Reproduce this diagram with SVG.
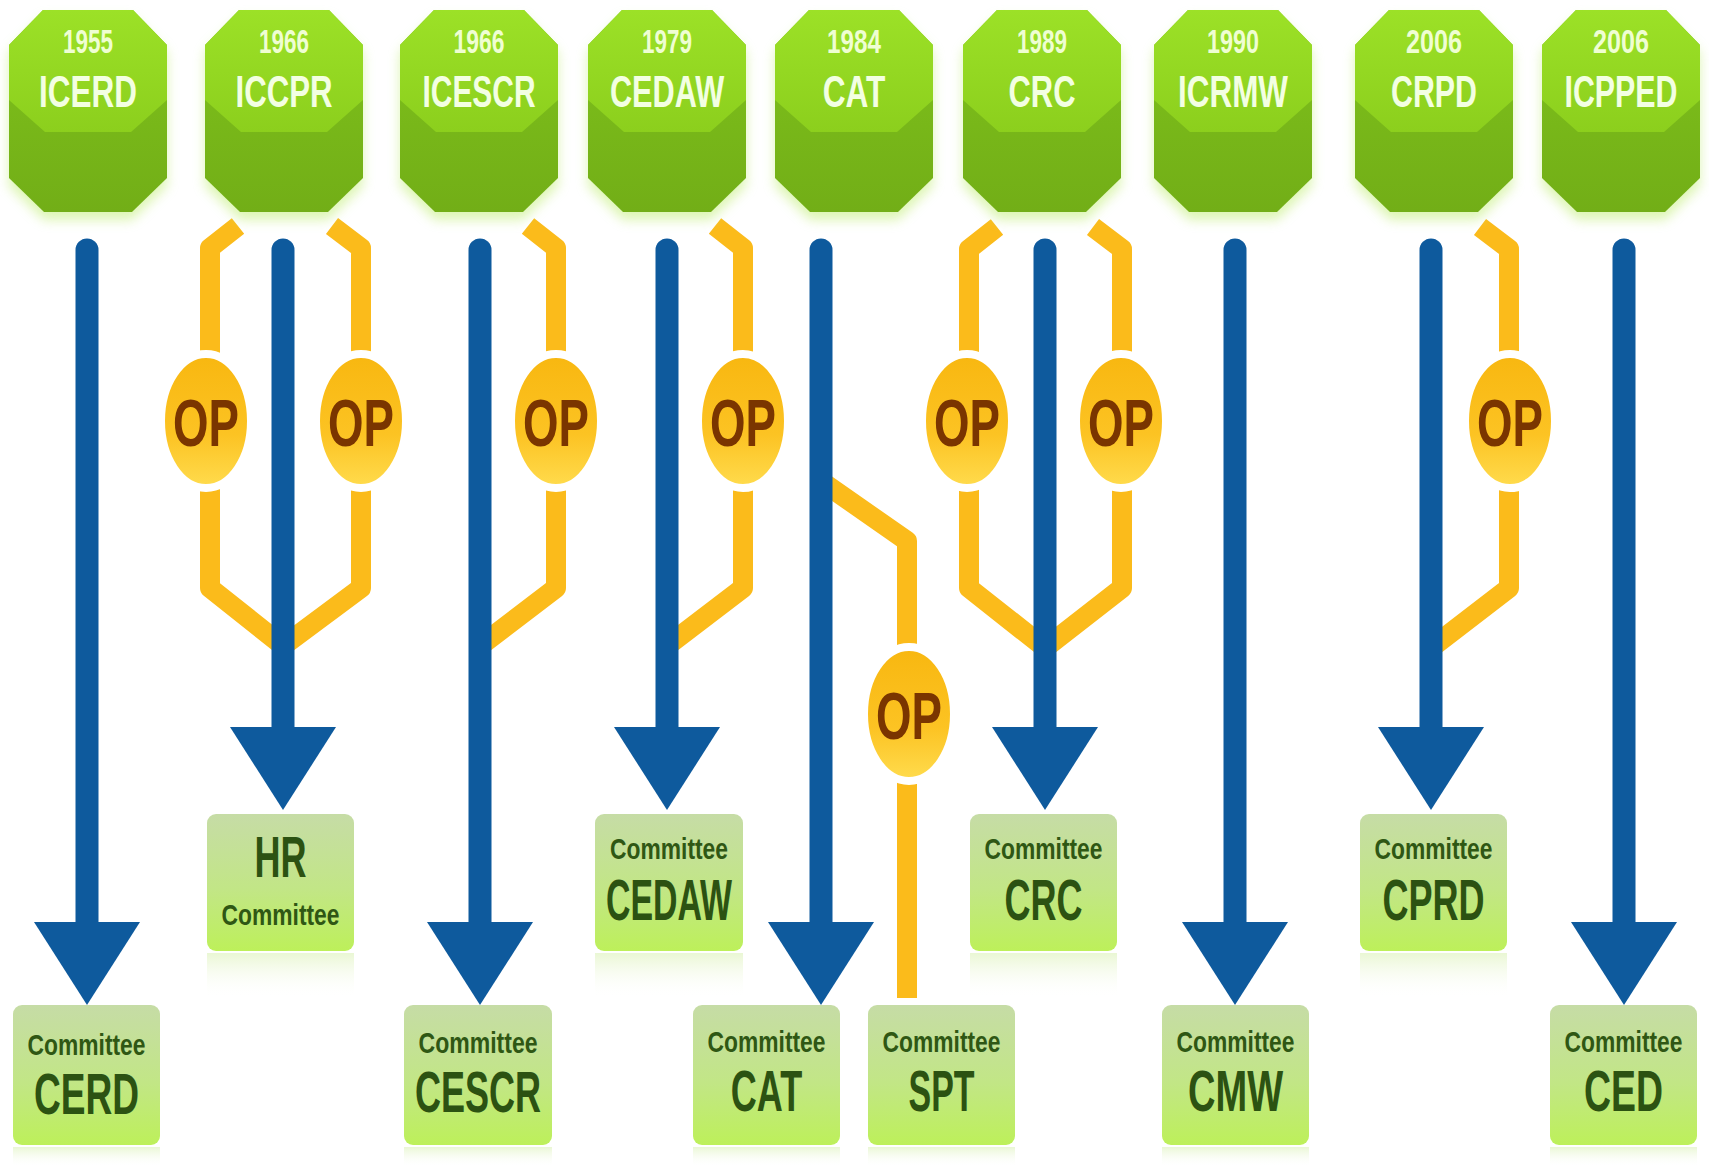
<svg xmlns="http://www.w3.org/2000/svg" xmlns:xlink="http://www.w3.org/1999/xlink" width="1709" height="1167" viewBox="0 0 1709 1167">
<defs>
<style>
.blue{stroke:#0e5a9d;stroke-width:23;stroke-linecap:round;fill:none;marker-end:url(#head)}
.op{stroke:#fbbb1b;stroke-width:20;fill:none;stroke-linejoin:round}
.yr{font-family:"Liberation Sans",Arial,sans-serif;font-weight:bold;font-size:34px;fill:#effed2;text-anchor:middle}
.nm{font-family:"Liberation Sans",Arial,sans-serif;font-weight:bold;font-size:45px;fill:#f3ffe2;text-anchor:middle}
.cm{font-family:"Liberation Sans",Arial,sans-serif;font-weight:bold;font-size:30px;fill:#2f5714;text-anchor:middle}
.big{font-family:"Liberation Sans",Arial,sans-serif;font-weight:bold;font-size:58px;fill:#2c5212;text-anchor:middle}
.opt{font-family:"Liberation Sans",Arial,sans-serif;font-weight:bold;font-size:66px;fill:#7a3500;text-anchor:middle}
.box{fill:url(#boxg)}
.refl{fill:url(#reflg)}
.ell{fill:url(#opg);stroke:#ffffff;stroke-width:8}
</style>
<linearGradient id="bodyg" x1="0" y1="0" x2="0" y2="1">
<stop offset="0" stop-color="#80c31c"/><stop offset="1" stop-color="#72ae17"/>
</linearGradient>
<linearGradient id="topg" x1="0" y1="0" x2="0" y2="1">
<stop offset="0" stop-color="#9ce127"/><stop offset="1" stop-color="#8ccf1d"/>
</linearGradient>
<linearGradient id="boxg" x1="0" y1="0" x2="0" y2="1">
<stop offset="0" stop-color="#c6dca6"/><stop offset="0.55" stop-color="#c2e686"/><stop offset="1" stop-color="#bdf05a"/>
</linearGradient>
<linearGradient id="reflg" x1="0" y1="0" x2="0" y2="1">
<stop offset="0" stop-color="#d8f0b0" stop-opacity="0.55"/><stop offset="1" stop-color="#ffffff" stop-opacity="0"/>
</linearGradient>
<linearGradient id="opg" x1="0" y1="0" x2="0" y2="1">
<stop offset="0" stop-color="#f8b710"/><stop offset="0.6" stop-color="#fcc323"/><stop offset="1" stop-color="#ffdc4e"/>
</linearGradient>
<filter id="glow" x="-20%" y="-20%" width="140%" height="140%"><feGaussianBlur stdDeviation="6"/></filter>
<marker id="head" markerUnits="userSpaceOnUse" markerWidth="84" markerHeight="108" viewBox="0 -54 84 108" refX="0" refY="0" orient="auto">
<path d="M0,-53 L83,0 L0,53 Z" fill="#0e5a9d"/>
</marker>
<path id="hexOuter" d="M-45,10 L45,10 L79,45 L79,178 L44,212 L-44,212 L-79,178 L-79,45 Z"/>
<path id="hexTop" d="M-45,10 L45,10 L79,45 L79,100 L43,132 L-43,132 L-79,100 L-79,45 Z"/>
</defs>
<rect width="1709" height="1167" fill="#ffffff"/>

<g id="connectors">
<path class="op" d="M238,226 L210,248 L210,588 L283,646"/>
<path class="op" d="M332,226 L361,248 L361,588 L283,646"/>
<path class="op" d="M528,226 L556,248 L556,588 L480,646"/>
<path class="op" d="M715,226 L743,248 L743,588 L667,646"/>
<path class="op" d="M821,481 L907,541 L907,998"/>
<path class="op" d="M997,227 L969,249 L969,588 L1045,648"/>
<path class="op" d="M1093,227 L1122,249 L1122,588 L1045,648"/>
<path class="op" d="M1480,227 L1509,249 L1509,588 L1431,648"/>
<path class="blue" d="M87,250 L87,922"/>
<path class="blue" d="M283,250 L283,727"/>
<path class="blue" d="M480,250 L480,922"/>
<path class="blue" d="M667,250 L667,727"/>
<path class="blue" d="M821,250 L821,922"/>
<path class="blue" d="M1045,250 L1045,727"/>
<path class="blue" d="M1235,250 L1235,922"/>
<path class="blue" d="M1431,250 L1431,727"/>
<path class="blue" d="M1624,250 L1624,922"/>
</g>

<g id="ICERD" transform="translate(88,0)">
<use xlink:href="#hexOuter" fill="#c6ef80" opacity="0.6" transform="translate(0,8)" filter="url(#glow)"/>
<use xlink:href="#hexOuter" fill="url(#bodyg)"/><use xlink:href="#hexTop" fill="url(#topg)"/>
<text class="yr" transform="translate(0,53) scale(0.661,1)">1955</text>
<text class="nm" transform="translate(0,107) scale(0.700,1)">ICERD</text>
</g>
<g id="ICCPR" transform="translate(284,0)">
<use xlink:href="#hexOuter" fill="#c6ef80" opacity="0.6" transform="translate(0,8)" filter="url(#glow)"/>
<use xlink:href="#hexOuter" fill="url(#bodyg)"/><use xlink:href="#hexTop" fill="url(#topg)"/>
<text class="yr" transform="translate(0,53) scale(0.661,1)">1966</text>
<text class="nm" transform="translate(0,107) scale(0.693,1)">ICCPR</text>
</g>
<g id="ICESCR" transform="translate(479,0)">
<use xlink:href="#hexOuter" fill="#c6ef80" opacity="0.6" transform="translate(0,8)" filter="url(#glow)"/>
<use xlink:href="#hexOuter" fill="url(#bodyg)"/><use xlink:href="#hexTop" fill="url(#topg)"/>
<text class="yr" transform="translate(0,53) scale(0.675,1)">1966</text>
<text class="nm" transform="translate(0,107) scale(0.665,1)">ICESCR</text>
</g>
<g id="CEDAW" transform="translate(667,0)">
<use xlink:href="#hexOuter" fill="#c6ef80" opacity="0.6" transform="translate(0,8)" filter="url(#glow)"/>
<use xlink:href="#hexOuter" fill="url(#bodyg)"/><use xlink:href="#hexTop" fill="url(#topg)"/>
<text class="yr" transform="translate(0,53) scale(0.661,1)">1979</text>
<text class="nm" transform="translate(0,107) scale(0.682,1)">CEDAW</text>
</g>
<g id="CAT" transform="translate(854,0)">
<use xlink:href="#hexOuter" fill="#c6ef80" opacity="0.6" transform="translate(0,8)" filter="url(#glow)"/>
<use xlink:href="#hexOuter" fill="url(#bodyg)"/><use xlink:href="#hexTop" fill="url(#topg)"/>
<text class="yr" transform="translate(0,53) scale(0.714,1)">1984</text>
<text class="nm" transform="translate(0,107) scale(0.703,1)">CAT</text>
</g>
<g id="CRC" transform="translate(1042,0)">
<use xlink:href="#hexOuter" fill="#c6ef80" opacity="0.6" transform="translate(0,8)" filter="url(#glow)"/>
<use xlink:href="#hexOuter" fill="url(#bodyg)"/><use xlink:href="#hexTop" fill="url(#topg)"/>
<text class="yr" transform="translate(0,53) scale(0.661,1)">1989</text>
<text class="nm" transform="translate(0,107) scale(0.687,1)">CRC</text>
</g>
<g id="ICRMW" transform="translate(1233,0)">
<use xlink:href="#hexOuter" fill="#c6ef80" opacity="0.6" transform="translate(0,8)" filter="url(#glow)"/>
<use xlink:href="#hexOuter" fill="url(#bodyg)"/><use xlink:href="#hexTop" fill="url(#topg)"/>
<text class="yr" transform="translate(0,53) scale(0.688,1)">1990</text>
<text class="nm" transform="translate(0,107) scale(0.698,1)">ICRMW</text>
</g>
<g id="CRPD" transform="translate(1434,0)">
<use xlink:href="#hexOuter" fill="#c6ef80" opacity="0.6" transform="translate(0,8)" filter="url(#glow)"/>
<use xlink:href="#hexOuter" fill="url(#bodyg)"/><use xlink:href="#hexTop" fill="url(#topg)"/>
<text class="yr" transform="translate(0,53) scale(0.741,1)">2006</text>
<text class="nm" transform="translate(0,107) scale(0.675,1)">CRPD</text>
</g>
<g id="ICPPED" transform="translate(1621,0)">
<use xlink:href="#hexOuter" fill="#c6ef80" opacity="0.6" transform="translate(0,8)" filter="url(#glow)"/>
<use xlink:href="#hexOuter" fill="url(#bodyg)"/><use xlink:href="#hexTop" fill="url(#topg)"/>
<text class="yr" transform="translate(0,53) scale(0.741,1)">2006</text>
<text class="nm" transform="translate(0,107) scale(0.675,1)">ICPPED</text>
</g>

<g id="OP-ICCPR-1"><ellipse class="ell" cx="206" cy="421" rx="45" ry="67"/><text class="opt" transform="translate(206,446) scale(0.692,1)">OP</text></g>
<g id="OP-ICCPR-2"><ellipse class="ell" cx="361" cy="421" rx="45" ry="67"/><text class="opt" transform="translate(361,446) scale(0.692,1)">OP</text></g>
<g id="OP-ICESCR"><ellipse class="ell" cx="556" cy="421" rx="45" ry="67"/><text class="opt" transform="translate(556,446) scale(0.692,1)">OP</text></g>
<g id="OP-CEDAW"><ellipse class="ell" cx="743" cy="421" rx="45" ry="67"/><text class="opt" transform="translate(743,446) scale(0.692,1)">OP</text></g>
<g id="OP-CAT"><ellipse class="ell" cx="909" cy="714" rx="45" ry="67"/><text class="opt" transform="translate(909,739) scale(0.692,1)">OP</text></g>
<g id="OP-CRC-1"><ellipse class="ell" cx="967" cy="421" rx="45" ry="67"/><text class="opt" transform="translate(967,446) scale(0.692,1)">OP</text></g>
<g id="OP-CRC-2"><ellipse class="ell" cx="1121" cy="421" rx="45" ry="67"/><text class="opt" transform="translate(1121,446) scale(0.692,1)">OP</text></g>
<g id="OP-CRPD"><ellipse class="ell" cx="1510" cy="421" rx="45" ry="67"/><text class="opt" transform="translate(1510,446) scale(0.692,1)">OP</text></g>

<g id="Committee-CERD">
<rect class="refl" x="13" y="1147" width="147" height="20"/>
<rect class="box" x="13" y="1005" width="147" height="140" rx="9"/>
<text class="cm" transform="translate(86.5,1055) scale(0.761,1)">Committee</text>
<text class="big" transform="translate(86.5,1114) scale(0.639,1)">CERD</text>
</g>
<g id="HR-Committee">
<rect class="refl" x="207" y="953" width="147" height="45"/>
<rect class="box" x="207" y="814" width="147" height="137" rx="9"/>
<text class="big" transform="translate(280.5,877) scale(0.621,1)">HR</text>
<text class="cm" transform="translate(280.5,925) scale(0.761,1)">Committee</text>
</g>
<g id="Committee-CESCR">
<rect class="refl" x="404" y="1147" width="148" height="20"/>
<rect class="box" x="404" y="1005" width="148" height="140" rx="9"/>
<text class="cm" transform="translate(478,1053) scale(0.768,1)">Committee</text>
<text class="big" transform="translate(478,1112) scale(0.621,1)">CESCR</text>
</g>
<g id="Committee-CEDAW">
<rect class="refl" x="595" y="953" width="148" height="45"/>
<rect class="box" x="595" y="814" width="148" height="137" rx="9"/>
<text class="cm" transform="translate(669,859) scale(0.761,1)">Committee</text>
<text class="big" transform="translate(669,920) scale(0.584,1)">CEDAW</text>
</g>
<g id="Committee-CAT">
<rect class="refl" x="693" y="1147" width="147" height="20"/>
<rect class="box" x="693" y="1005" width="147" height="140" rx="9"/>
<text class="cm" transform="translate(766.5,1052) scale(0.761,1)">Committee</text>
<text class="big" transform="translate(766.5,1111) scale(0.621,1)">CAT</text>
</g>
<g id="Committee-SPT">
<rect class="refl" x="868" y="1147" width="147" height="20"/>
<rect class="box" x="868" y="1005" width="147" height="140" rx="9"/>
<text class="cm" transform="translate(941.5,1052) scale(0.761,1)">Committee</text>
<text class="big" transform="translate(941.5,1111) scale(0.585,1)">SPT</text>
</g>
<g id="Committee-CRC">
<rect class="refl" x="970" y="953" width="147" height="45"/>
<rect class="box" x="970" y="814" width="147" height="137" rx="9"/>
<text class="cm" transform="translate(1043.5,859) scale(0.761,1)">Committee</text>
<text class="big" transform="translate(1043.5,920) scale(0.621,1)">CRC</text>
</g>
<g id="Committee-CMW">
<rect class="refl" x="1162" y="1147" width="147" height="20"/>
<rect class="box" x="1162" y="1005" width="147" height="140" rx="9"/>
<text class="cm" transform="translate(1235.5,1052) scale(0.761,1)">Committee</text>
<text class="big" transform="translate(1235.5,1111) scale(0.656,1)">CMW</text>
</g>
<g id="Committee-CPRD">
<rect class="refl" x="1360" y="953" width="147" height="45"/>
<rect class="box" x="1360" y="814" width="147" height="137" rx="9"/>
<text class="cm" transform="translate(1433.5,859) scale(0.761,1)">Committee</text>
<text class="big" transform="translate(1433.5,920) scale(0.621,1)">CPRD</text>
</g>
<g id="Committee-CED">
<rect class="refl" x="1550" y="1147" width="147" height="20"/>
<rect class="box" x="1550" y="1005" width="147" height="140" rx="9"/>
<text class="cm" transform="translate(1623.5,1052) scale(0.761,1)">Committee</text>
<text class="big" transform="translate(1623.5,1111) scale(0.645,1)">CED</text>
</g>
</svg>
